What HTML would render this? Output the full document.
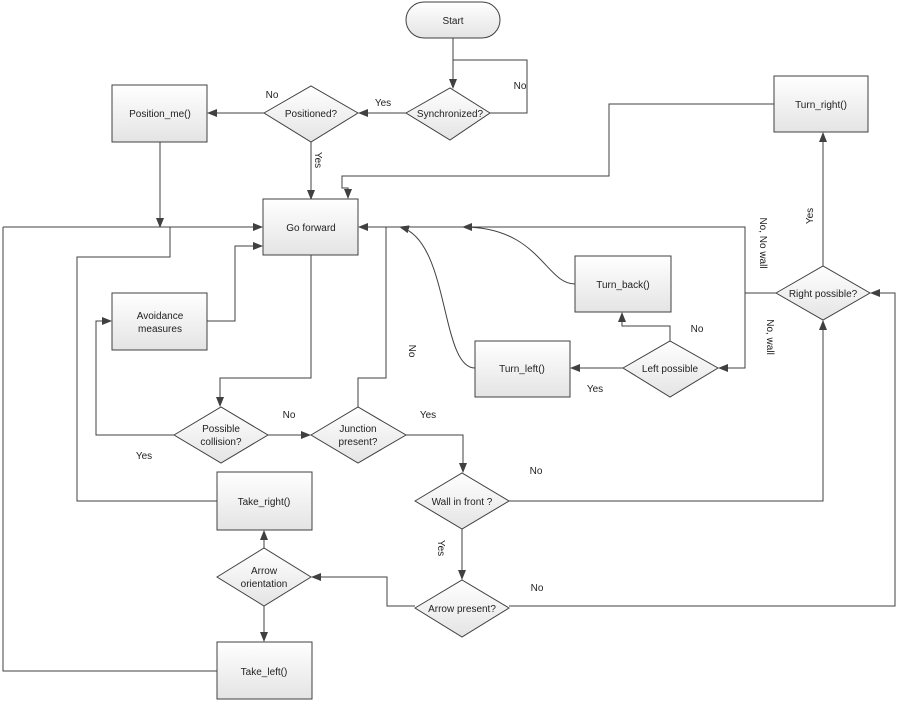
<!DOCTYPE html>
<html><head><meta charset="utf-8"><style>
html,body{margin:0;padding:0;background:#fff;}
svg{display:block;font-family:"Liberation Sans",sans-serif;font-size:10px;}
</style></head><body>
<svg width="898" height="702" viewBox="0 0 898 702" xmlns="http://www.w3.org/2000/svg">
<defs>
<linearGradient id="g" x1="0" y1="0" x2="0" y2="1"><stop offset="0" stop-color="#ffffff"/><stop offset="1" stop-color="#e4e4e4"/></linearGradient>
<marker id="a" markerWidth="10" markerHeight="8" refX="9" refY="4" orient="auto" markerUnits="userSpaceOnUse"><path d="M0,0 L10,4 L0,8 z" fill="#404040"/></marker>
</defs>
<g fill="none" stroke="#404040" stroke-width="1">
<!-- start to synch -->
<path d="M453,38 V88" marker-end="url(#a)"/>
<path d="M490,113 H527 V60 H453"/>
<!-- synch to positioned -->
<path d="M406,113 H359" marker-end="url(#a)"/>
<path d="M264,113 H208" marker-end="url(#a)"/>
<path d="M311,142 V199" marker-end="url(#a)"/>
<path d="M160,142 V227" marker-end="url(#a)"/>
<!-- left loop into go forward -->
<path d="M3,227 H262" marker-end="url(#a)"/>
<path d="M170,227 V257 H77 V501 H217"/>
<path d="M3,227 V671 H217"/>
<!-- avoidance -->
<path d="M207,321 H235 V246 H262" marker-end="url(#a)"/>
<path d="M174,435 H96 V321 H111" marker-end="url(#a)"/>
<!-- go forward down -->
<path d="M311,255 V378 H220 V406" marker-end="url(#a)"/>
<path d="M268,435 H310" marker-end="url(#a)"/>
<path d="M358,407 V378 H386 V227"/>
<path d="M745,293 V227 H359" marker-end="url(#a)"/>
<path d="M776,293 H745 V368 H719" marker-end="url(#a)"/>
<!-- turn right -->
<path d="M774,104 H609 V176 H342 V188 H348 V198" marker-end="url(#a)"/>
<path d="M823,266 V133" marker-end="url(#a)"/>
<!-- left possible -->
<path d="M623,368 H571" marker-end="url(#a)"/>
<path d="M670,341 V326 H622 V313" marker-end="url(#a)"/>
<path d="M575,284 C545,284 540,227 463,227" marker-end="url(#a)"/>
<path d="M475,368 C440,368 450,240 400,227" marker-end="url(#a)"/>
<!-- junction -->
<path d="M406,435 H463 V472" marker-end="url(#a)"/>
<path d="M509,501 H823 V321" marker-end="url(#a)"/>
<path d="M462,529 V579" marker-end="url(#a)"/>
<path d="M509,606 H895 V293 H871" marker-end="url(#a)"/>
<path d="M415,606 H387 V577 H312" marker-end="url(#a)"/>
<path d="M264,548 V531" marker-end="url(#a)"/>
<path d="M264,606 V641" marker-end="url(#a)"/>
</g>
<g fill="url(#g)" stroke="#404040" stroke-width="1">
<rect x="406" y="2" width="94" height="36" rx="18"/>
<polygon points="406,113 450,88 490,113 450,140"/>
<polygon points="264,113 311,86 358,113 311,142"/>
<rect x="112" y="85" width="95" height="57"/>
<rect x="263" y="199" width="95" height="56"/>
<rect x="112" y="293" width="95" height="57"/>
<rect x="774" y="76" width="94" height="56"/>
<rect x="575" y="256" width="96" height="56"/>
<rect x="475" y="341" width="95" height="56"/>
<polygon points="623,368 670,341 718,368 670,397"/>
<polygon points="776,293 823,266 870,293 823,320"/>
<polygon points="174,435 221,407 268,435 221,463"/>
<polygon points="311,435 358,407 406,435 358,463"/>
<polygon points="415,501 462,473 509,501 462,529"/>
<polygon points="415,608 462,580 509,608 462,637"/>
<polygon points="217,577 264,548 311,577 264,606"/>
<rect x="217" y="472" width="95" height="58"/>
<rect x="217" y="642" width="95" height="57"/>
</g>
<g fill="#222" text-anchor="middle">
<text x="453" y="24">Start</text>
<text x="450" y="117">Synchronized?</text>
<text x="311" y="117">Positioned?</text>
<text x="160" y="117">Position_me()</text>
<text x="311" y="231">Go forward</text>
<text x="160" y="319">Avoidance</text>
<text x="160" y="332">measures</text>
<text x="821" y="108">Turn_right()</text>
<text x="623" y="288">Turn_back()</text>
<text x="522" y="372">Turn_left()</text>
<text x="670" y="372">Left possible</text>
<text x="823" y="297">Right possible?</text>
<text x="221" y="432">Possible</text>
<text x="221" y="445">collision?</text>
<text x="358" y="432">Junction</text>
<text x="358" y="445">present?</text>
<text x="462" y="505">Wall in front ?</text>
<text x="462" y="612">Arrow present?</text>
<text x="264" y="574">Arrow</text>
<text x="264" y="587">orientation</text>
<text x="264" y="505">Take_right()</text>
<text x="264" y="675">Take_left()</text>
<text x="272" y="98">No</text>
<text x="383" y="106">Yes</text>
<text x="520" y="89">No</text>
<text x="697" y="332">No</text>
<text x="595" y="392">Yes</text>
<text x="289" y="418">No</text>
<text x="144" y="459">Yes</text>
<text x="428" y="418">Yes</text>
<text x="536" y="474">No</text>
<text x="537" y="591">No</text>
<text transform="translate(315,160) rotate(90)">Yes</text>
<text transform="translate(409,351) rotate(90)">No</text>
<text transform="translate(760,243) rotate(90)">No, No wall</text>
<text transform="translate(767,337) rotate(90)">No, wall</text>
<text transform="translate(813,216) rotate(-90)">Yes</text>
<text transform="translate(438,548) rotate(90)">Yes</text>
</g>
</svg>
</body></html>
